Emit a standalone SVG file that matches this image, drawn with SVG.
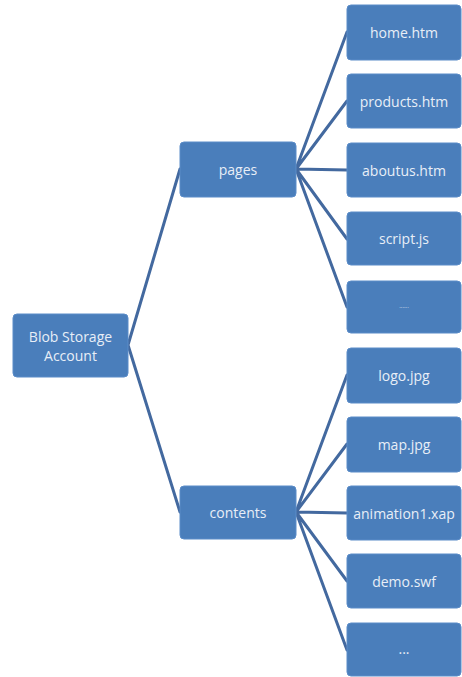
<svg xmlns="http://www.w3.org/2000/svg" width="462" height="677" viewBox="0 0 462 677">
<style>
.box{fill:#4a7ebb;stroke:#5b8cc8;stroke-width:1}
.t{font-family:"Open Sans","Noto Sans",sans-serif;font-size:14px;fill:#e8eef7;text-anchor:middle;dominant-baseline:central}
.c{stroke:#43699f;stroke-width:3;fill:none;stroke-linecap:round}
</style>
<rect width="462" height="677" fill="#ffffff"/>
<g id="connectors">
<path class="c" d="M128 345 L180 169 M128 345 L180 512"/>
<path class="c" d="M296 169 L347 32 M296 169 L347 101 M296 169 L347 170 M296 169 L347 239 M296 169 L347 307"/>
<path class="c" d="M296 512 L347 375 M296 512 L347 444 M296 512 L347 513 M296 512 L347 581 M296 512 L347 650"/>
</g>
<g id="root"><rect class="box" x="13" y="314" width="115" height="63" rx="4"/><text class="t" x="70.5" y="336">Blob Storage</text><text class="t" x="70.5" y="355">Account</text></g>
<g id="pages"><rect class="box" x="180" y="142" width="116" height="55" rx="4"/><text class="t" x="238" y="169.5">pages</text></g>
<g id="contents"><rect class="box" x="180" y="486" width="116" height="53" rx="4"/><text class="t" x="238" y="512.5">contents</text></g>
<g id="home"><rect class="box" x="347" y="5" width="114" height="55" rx="4"/><text class="t" x="404" y="32.5">home.htm</text></g>
<g id="products"><rect class="box" x="347" y="74" width="114" height="54" rx="4"/><text class="t" x="404" y="101">products.htm</text></g>
<g id="aboutus"><rect class="box" x="347" y="143" width="114" height="54" rx="4"/><text class="t" x="404" y="170">aboutus.htm</text></g>
<g id="script"><rect class="box" x="347" y="212" width="114" height="53" rx="4"/><text class="t" x="404" y="238.5">script.js</text></g>
<g id="pages-more"><rect class="box" x="347" y="281" width="114" height="52" rx="4"/><text class="t" x="404" y="306" style="font-size:6px">......</text></g>
<g id="logo"><rect class="box" x="347" y="348" width="114" height="55" rx="4"/><text class="t" x="404" y="375.5">logo.jpg</text></g>
<g id="map"><rect class="box" x="347" y="417" width="114" height="55" rx="4"/><text class="t" x="404" y="444.5">map.jpg</text></g>
<g id="animation"><rect class="box" x="347" y="486" width="114" height="54" rx="4"/><text class="t" x="404" y="513">animation1.xap</text></g>
<g id="demo"><rect class="box" x="347" y="554" width="114" height="54" rx="4"/><text class="t" x="404" y="581">demo.swf</text></g>
<g id="contents-more"><rect class="box" x="347" y="623" width="114" height="53" rx="4"/><text class="t" x="404" y="648">...</text></g>
</svg>
